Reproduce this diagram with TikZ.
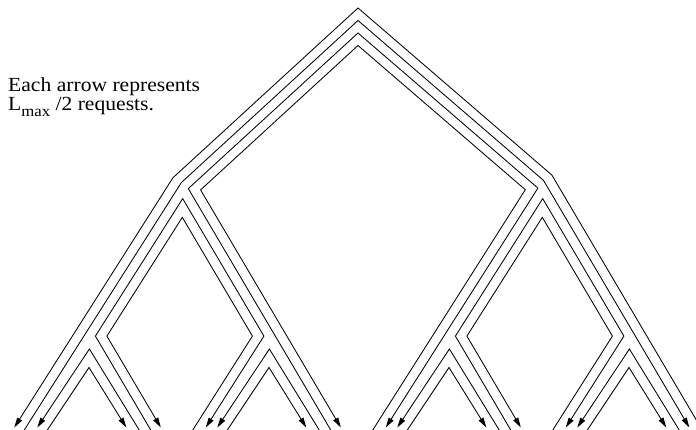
\documentclass[tikz,border=0pt]{standalone}
\usepackage{fontspec}
\setmainfont{Liberation Serif}
\usetikzlibrary{arrows.meta}
\begin{document}
\begin{tikzpicture}[x=1pt,y=-1pt,
  flow/.style={line width=0.85pt},
  arr/.style={flow,-{Triangle[length=10pt,width=5.5pt]}},
  lbl/.style={anchor=base west,inner sep=0pt,font=\fontsize{20}{20}\selectfont}]
\useasboundingbox (0,0) rectangle (696,430);
\clip (0,0) rectangle (696,430);

% legend text
\node[lbl,text depth=0pt] (t1) at (8,92) {\scalebox{1.08}[1]{Each arrow represents}};
\node[lbl,text height=11pt] (t2) at (8,110.5) {\scalebox{1.08}[1]{L\raisebox{-6.5pt}{\fontsize{15.5}{15.5}\selectfont max} /2 requests.}};

% root chevrons
\coordinate (c1s) at (703.4,432);
\coordinate (c1r) at (551.9,175.1);
\coordinate (c1t) at (358,8);
\coordinate (c1l) at (172.9,177.8);
\coordinate (c1e) at (14.3,427.5);
\draw[arr] (c1s) -- (c1r) -- (c1t) -- (c1l) -- (c1e);

\coordinate (c2s) at (23.0,432);
\coordinate (c2l) at (181.4,182.5);
\coordinate (c2t) at (358,20.5);
\coordinate (c2r) at (543.5,180.4);
\coordinate (c2e) at (689.3,427.5);
\draw[arr] (c2s) -- (c2l) -- (c2t) -- (c2r) -- (c2e);

\coordinate (c3s) at (331.9,432);
\coordinate (c3l) at (188.3,188.6);
\coordinate (c3t) at (358,33);
\coordinate (c3r) at (537.9,188.1);
\coordinate (c3e) at (385.8,427.5);
\draw[arr] (c3s) -- (c3l) -- (c3t) -- (c3r) -- (c3e);

\coordinate (c4s) at (371.5,432);
\coordinate (c4r) at (525.3,189.7);
\coordinate (c4t) at (358,45.5);
\coordinate (c4l) at (200.6,189.9);
\coordinate (c4e) at (340.8,427.5);
\draw[arr] (c4s) -- (c4r) -- (c4t) -- (c4l) -- (c4e);

% level-1 chevrons, left
\coordinate (la-s) at (151.9,432);
\coordinate (la-b1) at (95.4,336.1);
\coordinate (la-t) at (182.7,198.6);
\coordinate (la-b2) at (263.9,336.1);
\coordinate (la-e) at (205.8,427.5);
\draw[arr] (la-s) -- (la-b1) -- (la-t) -- (la-b2) -- (la-e);

\coordinate (lb-s) at (191.5,432);
\coordinate (lb-b1) at (252.4,336.1);
\coordinate (lb-t) at (182.3,217.35);
\coordinate (lb-b2) at (106.9,336.1);
\coordinate (lb-e) at (160.8,427.5);
\draw[arr] (lb-s) -- (lb-b1) -- (lb-t) -- (lb-b2) -- (lb-e);

% level-1 chevrons, right
\coordinate (ra-s) at (511.9,432);
\coordinate (ra-b1) at (455.4,336.1);
\coordinate (ra-t) at (542.7,198.6);
\coordinate (ra-b2) at (623.9,336.1);
\coordinate (ra-e) at (565.8,427.5);
\draw[arr] (ra-s) -- (ra-b1) -- (ra-t) -- (ra-b2) -- (ra-e);

\coordinate (rb-s) at (551.5,432);
\coordinate (rb-b1) at (612.4,336.1);
\coordinate (rb-t) at (542.3,217.35);
\coordinate (rb-b2) at (466.9,336.1);
\coordinate (rb-e) at (520.8,427.5);
\draw[arr] (rb-s) -- (rb-b1) -- (rb-t) -- (rb-b2) -- (rb-e);

% level-2 chevrons
\foreach \c in {30,210,390,570}{
  \coordinate (pa\c s) at (\c+110.4,432);
  \coordinate (pa\c t) at (\c+59.4,349);
  \coordinate (pa\c e) at (\c+7.3,427.5);
  \draw[arr] (pa\c s) -- (pa\c t) -- (pa\c e);
  \coordinate (pb\c s) at (\c+16.0,432);
  \coordinate (pb\c t) at (\c+59.0,367.5);
  \coordinate (pb\c e) at (\c+96.3,427.5);
  \draw[arr] (pb\c s) -- (pb\c t) -- (pb\c e);
}
\end{tikzpicture}
\end{document}
